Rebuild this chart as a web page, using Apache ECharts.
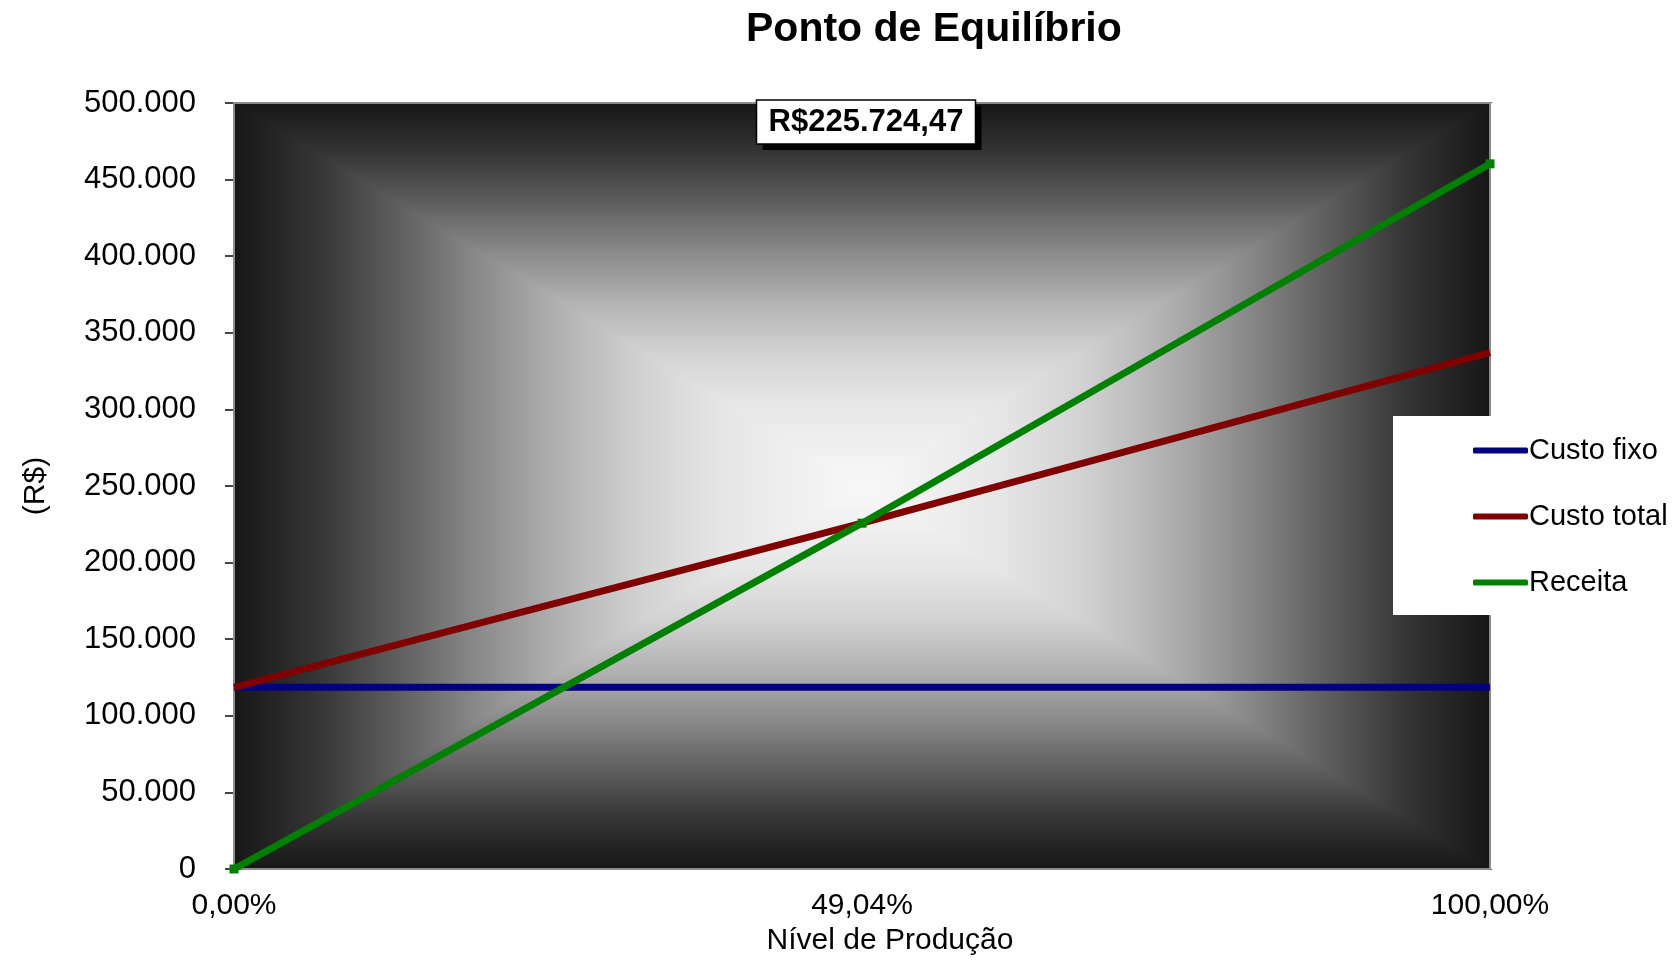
<!DOCTYPE html>
<html>
<head>
<meta charset="utf-8">
<script src="https://cdn.jsdelivr.net/npm/echarts@6/dist/echarts.min.js"></script>
<style>
html,body{margin:0;padding:0;background:#fff;}
#c{width:1678px;height:961px;}
</style>
</head>
<body>
<div id="c"></div>
<script>
const categories = ['0,00%', '49,04%', '100,00%'];
const custoFixo = [118600, 118600, 118600];
const custoTotal = [118600, 225724.47, 337050];
const receita = [0, 225724.47, 460290];
const yTicks = { min: 0, max: 500000, interval: 50000 };
const breakEvenLabel = 'R$225.724,47';
const breakEvenIndex = 1;

const FONT = '"Liberation Sans", Arial, sans-serif';
const chart = echarts.init(document.getElementById('c'), null, { renderer: 'canvas' });

function fmt(v) {
  return String(Math.round(v)).replace(/\B(?=(\d{3})+(?!\d))/g, '.');
}

const option = {
  backgroundColor: '#ffffff',
  animation: false,
  title: {
    text: 'Ponto de Equilíbrio',
    left: 741, top: 4,
    textStyle: { fontFamily: FONT, fontSize: 41, fontWeight: 'bold', color: '#000' }
  },
  grid: {
    left: 234, top: 103, width: 1256, height: 767,
    show: true, backgroundColor: 'transparent', borderColor: '#8c8c8c', borderWidth: 2, z: 1
  },
  legend: {
    orient: 'vertical',
    left: 1393, top: 416,
    backgroundColor: '#ffffff',
    padding: [20, 8, 18, 80],
    itemWidth: 55, itemHeight: 6, itemGap: 37,
    icon: 'roundRect',
    textStyle: { fontFamily: FONT, fontSize: 29, color: '#000', padding: [0, 0, 0, -4] },
    data: ['Custo fixo', 'Custo total', 'Receita']
  },
  xAxis: {
    type: 'category',
    data: categories,
    boundaryGap: false,
    name: 'Nível de Produção',
    nameLocation: 'middle',
    nameGap: 57,
    nameTextStyle: { fontFamily: FONT, fontSize: 30, color: '#000', padding: [0, 0, 0, 56] },
    axisLine: { lineStyle: { color: '#6e6e6e', width: 2 } },
    axisTick: { show: false },
    axisLabel: { fontFamily: FONT, fontSize: 30, color: '#000', margin: 22, interval: 0 },
    splitLine: { show: false }
  },
  yAxis: {
    type: 'value',
    min: yTicks.min, max: yTicks.max, interval: yTicks.interval,
    name: '(R$)',
    nameLocation: 'middle',
    nameGap: 183,
    nameTextStyle: { fontFamily: FONT, fontSize: 30, color: '#000' },
    axisLine: { show: true, lineStyle: { color: '#6e6e6e', width: 2 } },
    axisTick: { show: true, length: 9, lineStyle: { color: '#444', width: 2 } },
    axisLabel: { fontFamily: FONT, fontSize: 31, color: '#000', margin: 38, formatter: fmt },
    splitLine: { show: false }
  },
  series: [
    {
      name: 'Custo fixo', type: 'line', data: custoFixo,
      symbol: 'none', color: '#000080',
      lineStyle: { width: 7, color: '#000080' }, z: 3
    },
    {
      name: 'Custo total', type: 'line', data: custoTotal,
      symbol: 'none', color: '#800000',
      lineStyle: { width: 7, color: '#800000' }, z: 4
    },
    {
      name: 'Receita', type: 'line', data: receita,
      symbol: 'rect', symbolSize: 9, color: '#008000',
      itemStyle: { color: '#008000' },
      lineStyle: { width: 7, color: '#008000' }, z: 5
    }
  ]
};
chart.setOption(option);

// plot-area "from center" gradient made of four triangles
const rect = chart.getModel().getComponent('grid').coordinateSystem.getRect();
const L = rect.x, T = rect.y, R = rect.x + rect.width, B = rect.y + rect.height;
const cx = (L + R) / 2, cy = (T + B) / 2;
const stops = [
  [0, '#161616'], [0.13, '#343434'], [0.26, '#5e5e5e'], [0.39, '#8a8a8a'],
  [0.52, '#b2b2b2'], [0.65, '#d2d2d2'], [0.78, '#e6e6e6'], [1, '#f8f8f8']
];
function grad(x, y, x2, y2) {
  return new echarts.graphic.LinearGradient(x, y, x2, y2,
    stops.map(s => ({ offset: s[0], color: s[1] })));
}
function tri(points, g) {
  return { type: 'polygon', z: -1, silent: true, shape: { points: points },
    style: { fill: g, stroke: g, lineWidth: 1.5, lineJoin: 'miter' } };
}
const lx = chart.convertToPixel({ xAxisIndex: 0 }, breakEvenIndex);
const boxW = 219, boxH = 44;
chart.setOption({
  graphic: [
    { type: 'rect', z: -2, silent: true, shape: { x: L, y: T, width: R - L, height: B - T }, style: { fill: '#9a9a9a' } },
    tri([[L, T], [R, T], [cx, cy]], grad(0, 0, 0, 1)),
    tri([[L, B], [R, B], [cx, cy]], grad(0, 1, 0, 0)),
    tri([[L, T], [L, B], [cx, cy]], grad(0, 0, 1, 0)),
    tri([[R, T], [R, B], [cx, cy]], grad(1, 0, 0, 0)),
    { type: 'rect', z: 20, silent: true, shape: { x: lx - boxW / 2 + 4 + 6, y: T - 3 + 6, width: boxW, height: boxH }, style: { fill: '#000' } },
    { type: 'rect', z: 21, silent: true, shape: { x: lx - boxW / 2 + 4, y: T - 3, width: boxW, height: boxH }, style: { fill: '#fff', stroke: '#000', lineWidth: 1.5 } },
    { type: 'text', z: 22, silent: true, x: lx + 4, y: T - 3 + boxH / 2,
      style: { text: breakEvenLabel, fontFamily: FONT, fontSize: 31, fontWeight: 'bold', fill: '#000', align: 'center', verticalAlign: 'middle' } }
  ]
});
</script>
</body>
</html>
